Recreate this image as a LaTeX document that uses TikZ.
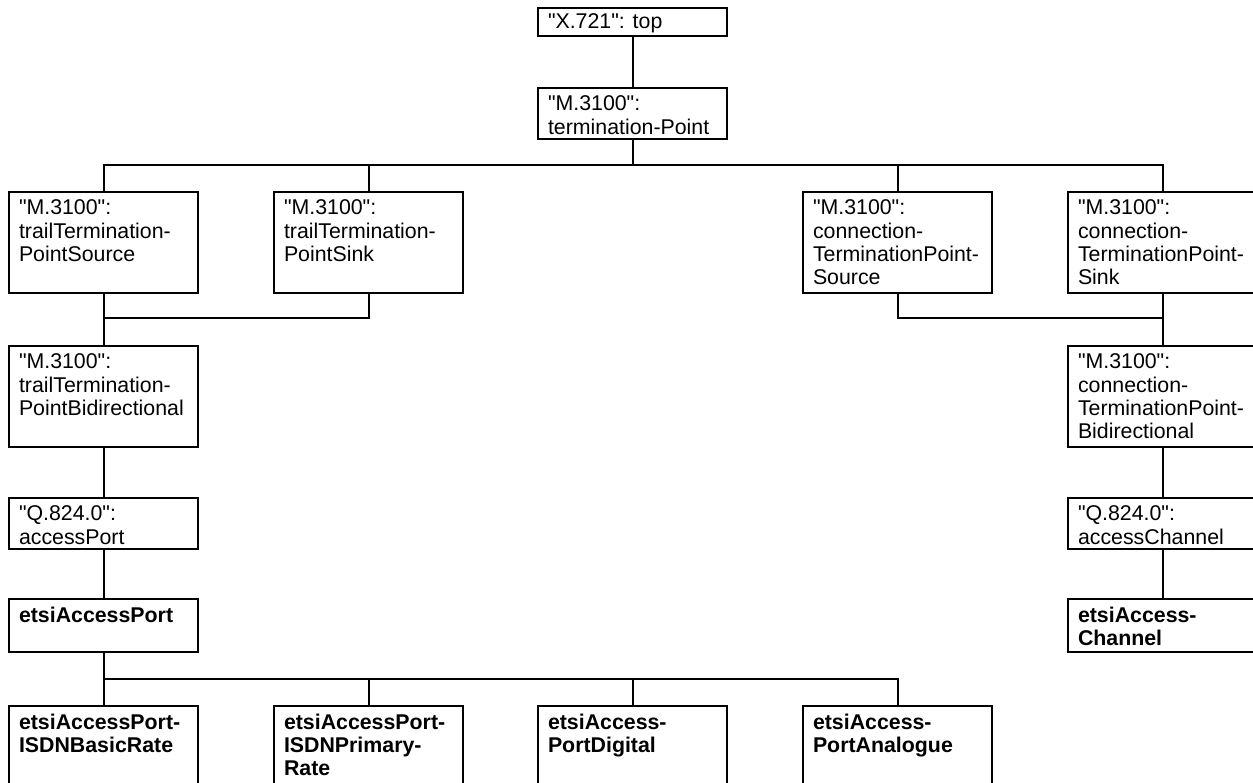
\documentclass[tikz,border=0pt]{standalone}
\usepackage{fontspec}
\setmainfont{Liberation Sans}[Ligatures=TeXOff]

% text block of a class box: fixed height, text from the top left
\newcommand{\tbox}[2]{\parbox[t][#1][t]{126.75pt}{\raggedright #2}}

\tikzset{every picture/.style={line width=1.5pt}}
\tikzset{objbox/.style={draw, anchor=north west, inner xsep=7.5pt, inner ysep=6pt,
  minimum width=141.75pt, font=\fontsize{16}{17.4}\selectfont}}

\begin{document}
\begin{tikzpicture}[x=0.75pt,y=0.75pt,yscale=-1,xscale=1]
\clip (0,0) rectangle (1253,782); %set diagram at 1253 x 782

%Shape: Rectangle 
\node[objbox, inner ysep=4.5pt] (top) at (537,7) {\tbox{12pt}{"X.721": top}};
%Shape: Rectangle 
\node[objbox] (tp) at (537,87) {\tbox{26.25pt}{"M.3100":\\termination-Point}};

%Shape: Rectangle 
\node[objbox] (ttpsrc) at (8,191) {\tbox{63.75pt}{"M.3100":\\trailTermination-\\PointSource}};
%Shape: Rectangle 
\node[objbox] (ttpsnk) at (273,191) {\tbox{63.75pt}{"M.3100":\\trailTermination-\\PointSink}};
%Shape: Rectangle 
\node[objbox] (ctpsrc) at (802,191) {\tbox{63.75pt}{"M.3100":\\connection-\\TerminationPoint-\\Source}};
%Shape: Rectangle 
\node[objbox] (ctpsnk) at (1067,191) {\tbox{63.75pt}{"M.3100":\\connection-\\TerminationPoint-\\Sink}};

%Shape: Rectangle 
\node[objbox] (ttpbid) at (8,345) {\tbox{63.75pt}{"M.3100":\\trailTermination-\\PointBidirectional}};
%Shape: Rectangle 
\node[objbox] (ctpbid) at (1067,345) {\tbox{63.75pt}{"M.3100":\\connection-\\TerminationPoint-\\Bidirectional}};

%Shape: Rectangle 
\node[objbox] (accport) at (8,497) {\tbox{26.25pt}{"Q.824.0":\\accessPort}};
%Shape: Rectangle 
\node[objbox] (accchan) at (1067,497) {\tbox{26.25pt}{"Q.824.0":\\accessChannel}};

%Shape: Rectangle 
\node[objbox] (etsiport) at (8,598) {\tbox{27.75pt}{\bfseries etsiAccessPort}};
%Shape: Rectangle 
\node[objbox] (etsichan) at (1067,598) {\tbox{27.75pt}{\bfseries etsiAccess-\\Channel}};

%Shape: Rectangle 
\node[objbox] (basic) at (8,705) {\tbox{63.75pt}{\bfseries etsiAccessPort-\\ISDNBasicRate}};
%Shape: Rectangle 
\node[objbox] (primary) at (273,705) {\tbox{63.75pt}{\bfseries etsiAccessPort-\\ISDNPrimary-\\Rate}};
%Shape: Rectangle 
\node[objbox] (digital) at (537,705) {\tbox{63.75pt}{\bfseries etsiAccess-\\PortDigital}};
%Shape: Rectangle 
\node[objbox] (analogue) at (802,705) {\tbox{63.75pt}{\bfseries etsiAccess-\\PortAnalogue}};

% bus heights
\coordinate (bus1) at (632,165);
\coordinate (bus2) at (0,318);
\coordinate (bus3) at (0,679);

%Straight Lines 
\draw (top) -- (tp);
\draw (tp.south) -- (tp.south |- bus1);
\draw (ttpsrc.north) -- (ttpsrc.north |- bus1) -- (ctpsnk.north |- bus1) -- (ctpsnk.north);
\draw (ttpsnk.north) -- (ttpsnk.north |- bus1);
\draw (ctpsrc.north) -- (ctpsrc.north |- bus1);

%Straight Lines 
\draw (ttpsrc.south) -- (ttpbid.north);
\draw (ttpsnk.south) -- (ttpsnk.south |- bus2) -- (ttpsrc.south |- bus2);
\draw (ctpsnk.south) -- (ctpbid.north);
\draw (ctpsrc.south) -- (ctpsrc.south |- bus2) -- (ctpsnk.south |- bus2);

%Straight Lines 
\draw (ttpbid) -- (accport);
\draw (accport) -- (etsiport);
\draw (ctpbid) -- (accchan);
\draw (accchan) -- (etsichan);

%Straight Lines 
\draw (etsiport.south) -- (basic.north);
\draw (etsiport.south |- bus3) -- (analogue.north |- bus3) -- (analogue.north);
\draw (primary.north) -- (primary.north |- bus3);
\draw (digital.north) -- (digital.north |- bus3);

\end{tikzpicture}
\end{document}
